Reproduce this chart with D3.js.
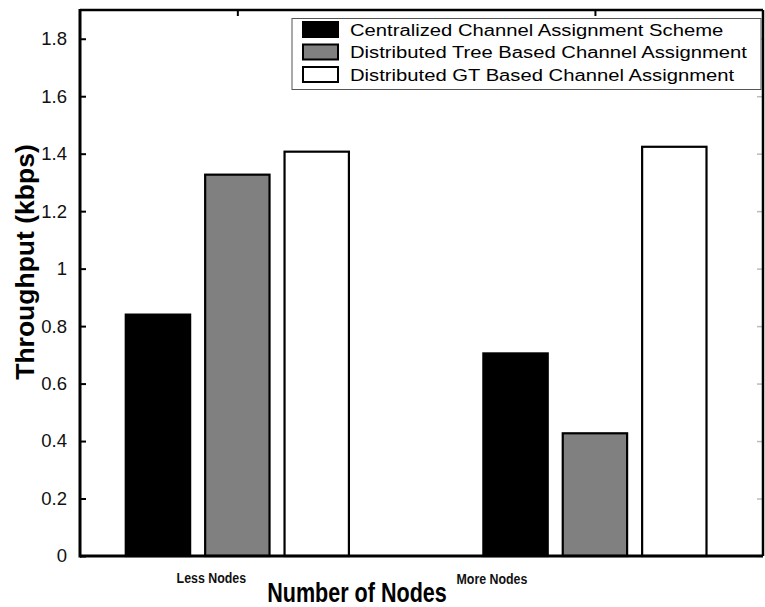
<!DOCTYPE html>
<html>
<head>
<meta charset="utf-8">
<script src="https://cdn.jsdelivr.net/npm/d3@7"></script>
<style>
  html, body { margin: 0; padding: 0; background: #fff; }
  svg { display: block; font-family: "Liberation Sans", Arial, sans-serif; }
</style>
</head>
<body>
<svg id="chart" width="765" height="607"></svg>
<script>
// ---- data ----
const categories = ["Less Nodes", "More Nodes"];
const seriesNames = [
  "Centralized Channel Assignment Scheme",
  "Distributed Tree Based Channel Assignment",
  "Distributed GT Based Channel Assignment"
];
const centralized = [0.84, 0.705];
const treeBased   = [1.327, 0.427];
const gtBased     = [1.407, 1.424];
const yTickValues = [0, 0.2, 0.4, 0.6, 0.8, 1, 1.2, 1.4, 1.6, 1.8];
const yTickLabels = ["0", "0.2", "0.4", "0.6", "0.8", "1", "1.2", "1.4", "1.6", "1.8"];
const xLabel = "Number of Nodes";
const yLabel = "Throughput (kbps)";

// ---- layout / style ----
const seriesValues = [centralized, treeBased, gtBased];
const fills = ["#000000", "#808080", "#ffffff"];
const L = 80, R = 763, T = 10, B = 556;

const svg = d3.select("#chart");
const x = d3.scaleLinear().domain([0.56, 2.47]).range([L, R]);
const y = d3.scaleLinear().domain([0, 1.9]).range([B, T]);

const groupOffset = 0.222;  // distance between bars within a group (data units)
const barW = 0.18;          // bar width (data units)

// bars
seriesValues.forEach((vals, s) => {
  svg.append("g").selectAll("rect")
    .data(vals)
    .join("rect")
    .attr("x", (d, i) => x(i + 1 + (s - 1) * groupOffset - barW / 2))
    .attr("width", x(barW) - x(0))
    .attr("y", d => y(d))
    .attr("height", d => y(0) - y(d))
    .attr("fill", fills[s])
    .attr("stroke", "#000")
    .attr("stroke-width", 2.2);
});

// axes box
const axisG = svg.append("g");
// left axis with inward ticks
const yAxis = d3.axisLeft(y).tickValues(yTickValues)
  .tickFormat((d, i) => yTickLabels[i]).tickSize(-6).tickPadding(13);
const gy = axisG.append("g").attr("transform", `translate(${L},0)`).call(yAxis);
gy.select(".domain").remove();
gy.selectAll(".tick line").attr("stroke", "#000").attr("stroke-width", 2);
gy.selectAll(".tick text").attr("font-size", 18.5).attr("fill", "#111")
  .attr("font-family", "Liberation Sans, Arial, sans-serif");

// right side mirror ticks
const gr = axisG.append("g").attr("transform", `translate(${R},0)`)
  .call(d3.axisRight(y).tickValues(yTickValues).tickSize(-6).tickFormat(""));
gr.select(".domain").remove();
gr.selectAll(".tick line").attr("stroke", "#bbb").attr("stroke-width", 1.5);

// top mirror ticks at category positions
const gt = axisG.append("g").attr("transform", `translate(0,${T})`)
  .call(d3.axisTop(x).tickValues([1, 2]).tickSize(-6).tickFormat(""));
gt.select(".domain").remove();
gt.selectAll(".tick line").attr("stroke", "#000").attr("stroke-width", 2);

// frame lines
axisG.append("line").attr("x1", L).attr("x2", L).attr("y1", T - 1).attr("y2", B + 1.5)
  .attr("stroke", "#000").attr("stroke-width", 3);
axisG.append("line").attr("x1", L).attr("x2", R).attr("y1", B).attr("y2", B)
  .attr("stroke", "#000").attr("stroke-width", 3);
axisG.append("line").attr("x1", L).attr("x2", R).attr("y1", T).attr("y2", T)
  .attr("stroke", "#000").attr("stroke-width", 2.5);
axisG.append("line").attr("x1", R).attr("x2", R).attr("y1", T).attr("y2", B)
  .attr("stroke", "#000").attr("stroke-width", 2.5);

// category labels (placed left of group centres, as in the original)
const catLabelShift = [-26, -103];
categories.forEach((c, i) => {
  const cx = x(i + 1) + catLabelShift[i];
  svg.append("text")
    .attr("transform", `translate(${cx},${582.5 + i}) scale(0.8,1)`)
    .attr("text-anchor", "middle")
    .attr("font-size", 15.5).attr("font-weight", "bold").attr("fill", "#111")
    .text(c);
});

// x axis label
svg.append("text")
  .attr("transform", `translate(357,602) scale(0.77,1)`)
  .attr("text-anchor", "middle")
  .attr("font-size", 28).attr("font-weight", "bold").attr("fill", "#000")
  .text(xLabel);

// y axis label
svg.append("text")
  .attr("transform", `translate(34,262) rotate(-90)`)
  .attr("text-anchor", "middle")
  .attr("font-size", 26.5).attr("font-weight", "bold").attr("fill", "#000")
  .text(yLabel);

// legend
const lg = svg.append("g");
lg.append("rect").attr("x", 292).attr("y", 18.5).attr("width", 469).attr("height", 71)
  .attr("fill", "#fff").attr("stroke", "#555").attr("stroke-width", 1);
seriesNames.forEach((name, s) => {
  const ry = 22 + s * 22.5;
  lg.append("rect").attr("x", 303).attr("y", ry).attr("width", 35).attr("height", 15)
    .attr("fill", fills[s]).attr("stroke", "#000").attr("stroke-width", 2);
  lg.append("text")
    .attr("transform", `translate(350,${ry + 13.5}) scale(1.17,1)`)
    .attr("font-size", 17.3).attr("fill", "#000")
    .text(name);
});
</script>
</body>
</html>
